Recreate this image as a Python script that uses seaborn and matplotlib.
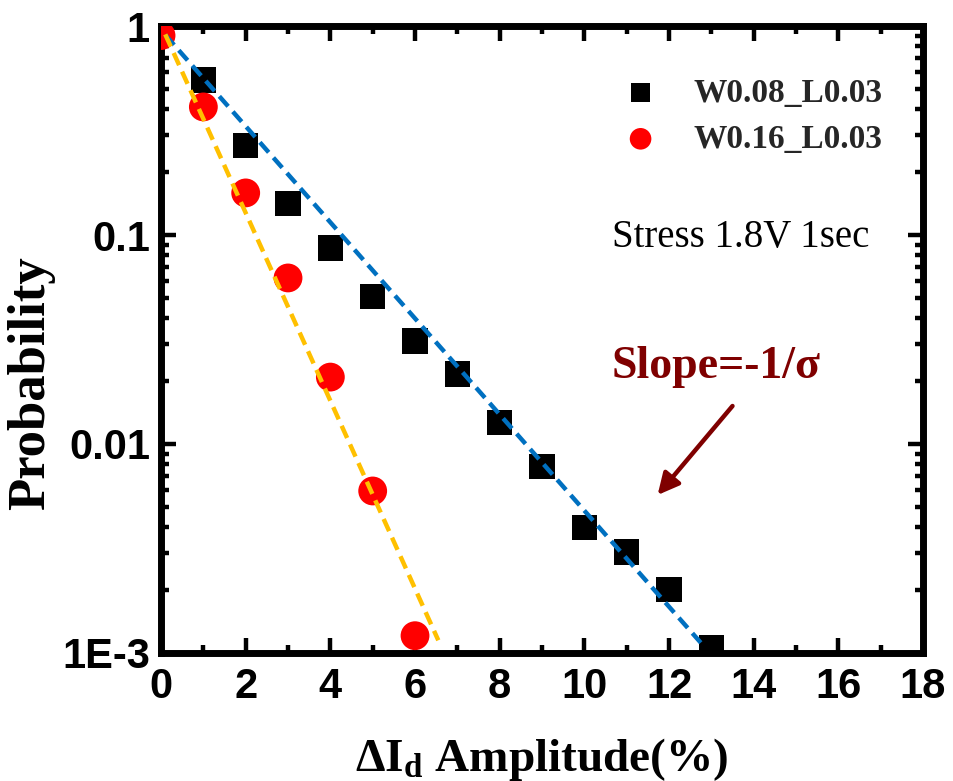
import numpy as np
import pandas as pd
import matplotlib
matplotlib.use("Agg")
import matplotlib.pyplot as plt
from matplotlib.ticker import MultipleLocator, LogLocator, NullFormatter
import seaborn as sns

# Measured distributions of drain-current fluctuation amplitude
amplitude_pct = [0, 1, 2, 3, 4, 5, 6, 7, 8, 9, 10, 11, 12, 13]
prob_w008 = [1.0, 0.552, 0.267, 0.142, 0.0867, 0.051, 0.0311, 0.0216,
             0.0127, 0.0078, 0.0040, 0.00304, 0.00202, 0.00106]

amplitude_pct_w016 = [0, 1, 2, 3, 4, 5, 6]
prob_w016 = [0.90, 0.41, 0.159, 0.0623, 0.0209, 0.00596, 0.00121]

# Exponential tail fits (straight lines on the log axis), given by their end points
fit_w008_x = [0.1, 12.75]
fit_w008_p = [0.906, 0.00112]
fit_w016_x = [0.1, 6.55]
fit_w016_p = [0.912, 0.00115]

labels = ["W0.08_L0.03", "W0.16_L0.03"]
x_ticks = [0, 2, 4, 6, 8, 10, 12, 14, 16, 18]
y_ticks = [1e-3, 1e-2, 1e-1, 1]
y_tick_labels = ["1E-3", "0.01", "0.1", "1"]

sns.set_theme(style="ticks")
plt.rcParams["font.family"] = ["Liberation Sans", "DejaVu Sans"]
plt.rcParams["font.weight"] = "bold"
plt.rcParams["xtick.color"] = "black"
plt.rcParams["ytick.color"] = "black"
plt.rcParams["mathtext.fontset"] = "custom"
plt.rcParams["mathtext.rm"] = "Liberation Serif:bold"
plt.rcParams["mathtext.it"] = "Liberation Serif:bold"
plt.rcParams["mathtext.bf"] = "Liberation Serif:bold"

fig = plt.figure(figsize=(9.54, 7.81), dpi=100)
ax = fig.add_axes([0.1688, 0.1639, 0.7987, 0.8028])

df_a = pd.DataFrame({"x": amplitude_pct, "p": prob_w008})
df_b = pd.DataFrame({"x": amplitude_pct_w016, "p": prob_w016})
fit_a = pd.DataFrame({"x": fit_w008_x, "p": fit_w008_p})
fit_b = pd.DataFrame({"x": fit_w016_x, "p": fit_w016_p})

sns.scatterplot(data=df_a, x="x", y="p", ax=ax, marker="s", s=330,
                color="black", edgecolor="none", label=labels[0], zorder=3)
sns.scatterplot(data=df_b, x="x", y="p", ax=ax, marker="o", s=430,
                color="#FF0000", edgecolor="none", label=labels[1], zorder=3)

sns.lineplot(data=fit_a, x="x", y="p", ax=ax, color="#0070C0", lw=3.2,
             dashes=False, zorder=4, legend=False)
sns.lineplot(data=fit_b, x="x", y="p", ax=ax, color="#FFC000", lw=3.2,
             dashes=False, zorder=4, legend=False)
for ln in ax.lines:
    ln.set_linestyle((0, (3.0, 1.6)))

ax.set_yscale("log")
ax.set_xlim(0, 18)
ax.set_ylim(1e-3, 1)

ax.set_xticks(x_ticks, [str(t) for t in x_ticks])
ax.xaxis.set_minor_locator(MultipleLocator(1))
ax.set_yticks(y_ticks, y_tick_labels)
ax.yaxis.set_minor_locator(LogLocator(base=10, subs=np.arange(2, 10)))
ax.yaxis.set_minor_formatter(NullFormatter())

ax.tick_params(which="major", direction="in", length=11, width=3.2,
               top=True, right=True, color="black", labelsize=30,
               labelfontfamily="Liberation Sans")
ax.tick_params(axis="x", which="major", pad=10)
ax.tick_params(axis="y", which="major", pad=8)
ax.tick_params(which="minor", direction="in", length=6, width=3.2,
               top=True, right=True, color="black")
ax.tick_params(axis="both", which="both", labeltop=False, labelright=False)

for sp in ax.spines.values():
    sp.set_linewidth(5)
    sp.set_color("black")
    sp.set_visible(True)

ax.set_xlabel(r"ΔI$_{\mathrm{d}}$ Amplitude(%)", fontfamily="Liberation Serif",
              fontweight="bold", fontsize=34, color="black")
ax.xaxis.set_label_coords(0.5, -0.132)
ax.set_ylabel("Probability", fontfamily="Liberation Serif", fontweight="bold",
              fontsize=38, color="black")
ax.yaxis.set_label_coords(-0.139, 0.43)

leg = ax.legend(loc="upper right", bbox_to_anchor=(0.978, 0.955), frameon=False,
                prop={"family": "Liberation Serif", "weight": "bold", "size": 24},
                handletextpad=0.6, labelspacing=0.45, borderaxespad=0.3,
                markerscale=0.75)

ax.text(13.69, 0.0968, "Stress 1.8V 1sec", fontfamily="Liberation Serif",
        fontweight="normal", fontsize=28, ha="center", va="center", color="black")
ax.text(13.1, 0.0234, "Slope=-1/σ", fontfamily="Liberation Serif",
        fontweight="bold", fontsize=33, ha="center", va="center", color="#7F0000")
ax.annotate("", xy=(11.73, 0.0057), xytext=(13.5, 0.0152),
            arrowprops=dict(arrowstyle="-|>", color="#7F0000", lw=3.2,
                            mutation_scale=32, shrinkA=0, shrinkB=0))

fig.savefig("out.png", dpi=100)
